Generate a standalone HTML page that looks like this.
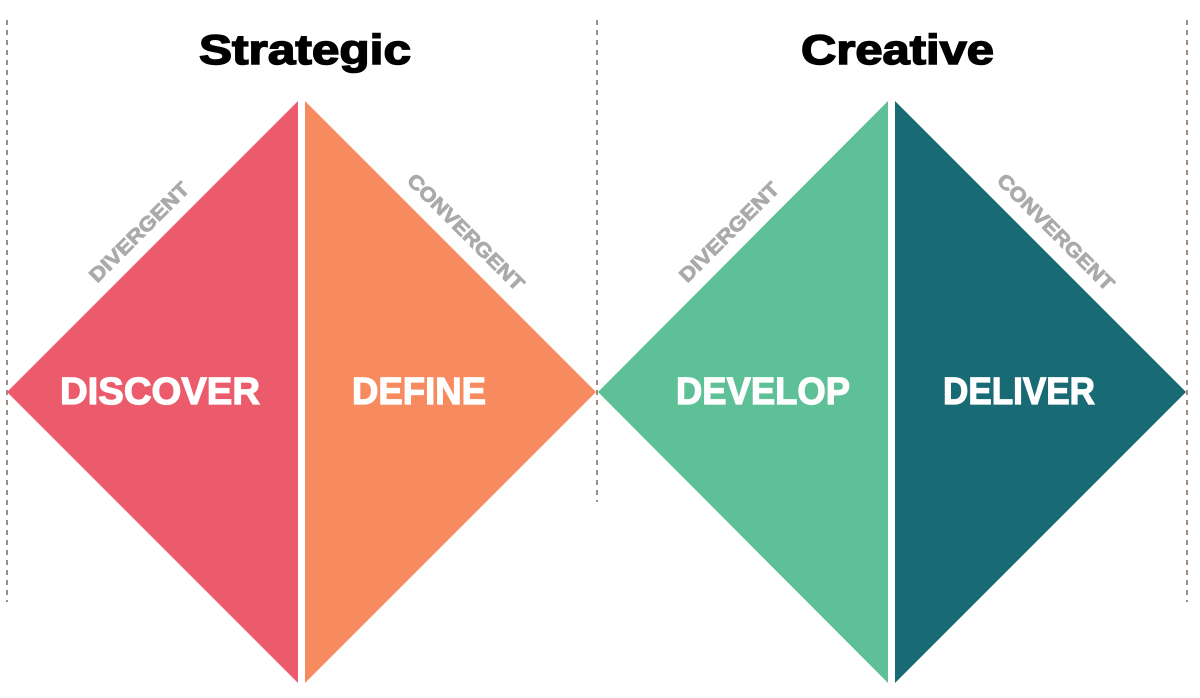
<!DOCTYPE html>
<html><head><style>
body{margin:0;background:#fff;width:1200px;height:693px;overflow:hidden}
svg text{font-family:"Liberation Sans",sans-serif;font-weight:bold}
</style></head><body>
<svg width="1200" height="693" viewBox="0 0 1200 693">
<g stroke="#a08f80" stroke-width="2" stroke-dasharray="5,5">
<line x1="7" y1="20" x2="7" y2="602"/>
<line x1="597" y1="20" x2="597" y2="502"/>
<line x1="1187" y1="20" x2="1187" y2="602"/>
</g>
<polygon points="298,101 298,683 7,392" fill="#ec5b6b"/>
<polygon points="305,101 305,683 596,392" fill="#f78b5f"/>
<polygon points="888,101 888,683 598,392" fill="#5ec097"/>
<polygon points="895,101 895,683 1186,392" fill="#186a75"/>
<g fill="#000" stroke="#000" stroke-width="1.5" font-size="42">
<text x="199" y="64" textLength="212" lengthAdjust="spacingAndGlyphs">Strategic</text>
<text x="801" y="64" textLength="193" lengthAdjust="spacingAndGlyphs">Creative</text>
</g>
<g fill="#fff" stroke="#fff" stroke-width="1.2" font-size="38">
<text x="60" y="404" textLength="200" lengthAdjust="spacingAndGlyphs">DISCOVER</text>
<text x="352" y="404" textLength="134" lengthAdjust="spacingAndGlyphs">DEFINE</text>
<text x="676" y="404" textLength="174" lengthAdjust="spacingAndGlyphs">DEVELOP</text>
<text x="943" y="404" textLength="152" lengthAdjust="spacingAndGlyphs">DELIVER</text>
</g>
<g fill="#aaaaaa" stroke="#aaaaaa" stroke-width="0.8" font-size="20" text-anchor="middle">
<text transform="translate(139,232) rotate(-45)" y="7" textLength="132" lengthAdjust="spacingAndGlyphs">DIVERGENT</text>
<text transform="translate(466,232) rotate(45)" y="7" textLength="156" lengthAdjust="spacingAndGlyphs">CONVERGENT</text>
<text transform="translate(729,232) rotate(-45)" y="7" textLength="132" lengthAdjust="spacingAndGlyphs">DIVERGENT</text>
<text transform="translate(1056,232) rotate(45)" y="7" textLength="156" lengthAdjust="spacingAndGlyphs">CONVERGENT</text>
</g>
</svg>
</body></html>
